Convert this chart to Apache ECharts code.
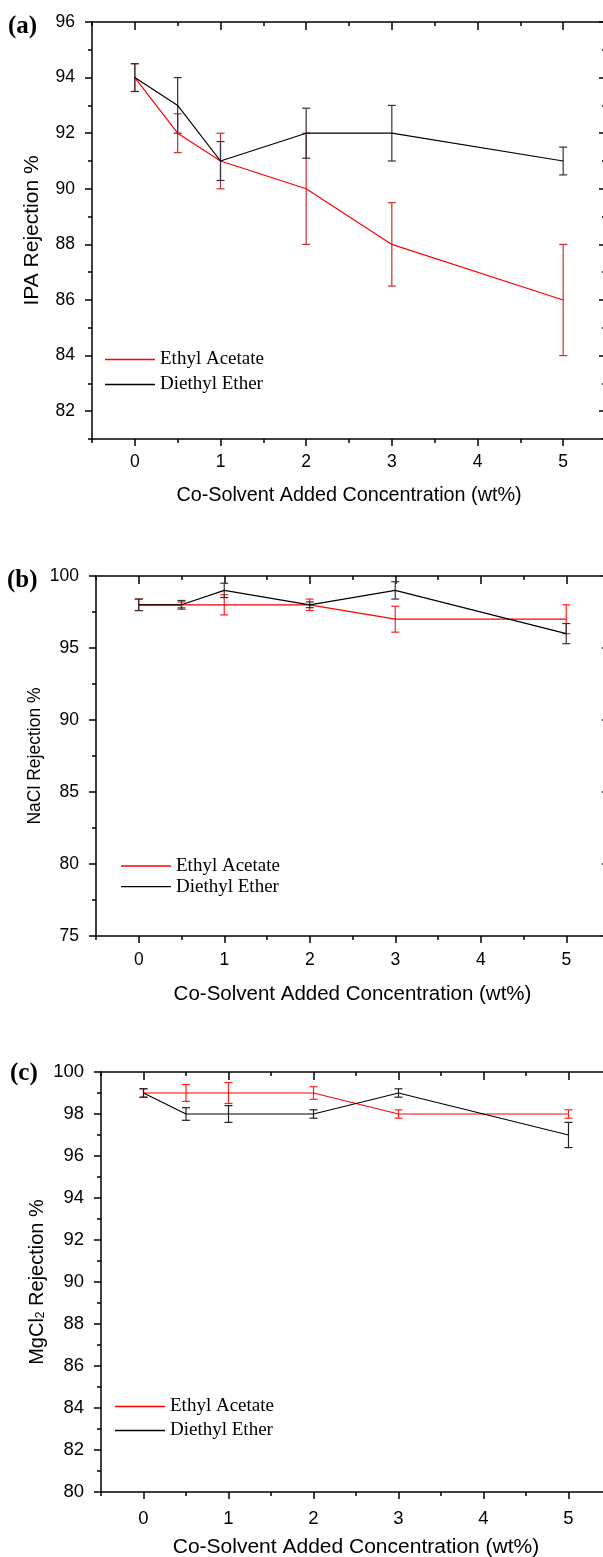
<!DOCTYPE html>
<html>
<head>
<meta charset="utf-8">
<script src="https://cdn.jsdelivr.net/npm/echarts@6/dist/echarts.min.js"></script>
<style>
html,body{margin:0;padding:0;background:#fff;}
#chart{width:603px;height:1557px;}
</style>
</head>
<body>
<div id="chart"></div>
<script>
// ---------- data ----------
const xValues = [0, 0.5, 1, 2, 3, 5];
const xTickValues = [0, 1, 2, 3, 4, 5];
const xMinorValues = [-0.5, 0.5, 1.5, 2.5, 3.5, 4.5, 5.5];
const seriesNames = ['Ethyl Acetate', 'Diethyl Ether'];
const xTitle = 'Co-Solvent Added Concentration (wt%)';

// (a) IPA rejection
const ipaEthyl = [94, 92, 91, 90, 88, 86];
const ipaEthylErr = [0.5, 0.7, 1.0, 2.0, 1.5, 2.0];
const ipaEther = [94, 93, 91, 92, 92, 91];
const ipaEtherErr = [0.5, 1.0, 0.7, 0.9, 1.0, 0.5];
const ipaYTicks = [82, 84, 86, 88, 90, 92, 94, 96];
const ipaYMinor = [81, 83, 85, 87, 89, 91, 93, 95];

// (b) NaCl rejection
const naclEthyl = [98, 98, 98, 98, 97, 97];
const naclEthylErr = [0.4, 0.2, 0.7, 0.4, 0.9, 1.0];
const naclEther = [98, 98, 99, 98, 99, 96];
const naclEtherErr = [0.4, 0.3, 0.5, 0.2, 0.6, 0.7];
const naclYTicks = [75, 80, 85, 90, 95, 100];
const naclYMinor = [77.5, 82.5, 87.5, 92.5, 97.5];

// (c) MgCl2 rejection
const mgEthyl = [99, 99, 99, 99, 98, 98];
const mgEthylErr = [0.2, 0.4, 0.5, 0.3, 0.2, 0.2];
const mgEther = [99, 98, 98, 98, 99, 97];
const mgEtherErr = [0.2, 0.3, 0.4, 0.2, 0.2, 0.6];
const mgYTicks = [80, 82, 84, 86, 88, 90, 92, 94, 96, 98, 100];
const mgYMinor = [81, 83, 85, 87, 89, 91, 93, 95, 97, 99];

// ---------- helpers ----------
const SANS = '"Liberation Sans", Arial, sans-serif';
const SERIF = '"Liberation Serif", "Times New Roman", serif';
const AXW = 1.5;

function xAxesFor(g, labelMargin, labelSize, nameGap, nameSize) {
  const base = {
    type: 'value', gridIndex: g, min: -0.5, max: 5.5,
    splitLine: { show: false },
    nameMoveOverlap: false,
    axisLine: { onZero: false, lineStyle: { color: '#000', width: AXW } }
  };
  return [
    Object.assign({}, base, {
      position: 'bottom',
      name: xTitle, nameLocation: 'middle', nameGap: nameGap,
      nameTextStyle: { fontFamily: SANS, fontSize: nameSize, color: '#000' },
      axisTick: { customValues: xTickValues, length: 7, lineStyle: { width: AXW, color: '#000' } },
      axisLabel: { customValues: xTickValues, margin: labelMargin, fontFamily: SANS, fontSize: labelSize, color: '#000' }
    }),
    Object.assign({}, base, {
      position: 'bottom',
      axisLine: { show: false, onZero: false },
      axisTick: { customValues: xMinorValues, length: 4, lineStyle: { width: AXW, color: '#000' } },
      axisLabel: { show: false }
    }),
    Object.assign({}, base, {
      position: 'top',
      axisTick: { inside: true, customValues: xTickValues, length: 8, lineStyle: { width: AXW, color: '#000' } },
      axisLabel: { show: false }
    }),
    Object.assign({}, base, {
      position: 'top',
      axisLine: { show: false, onZero: false },
      axisTick: { inside: true, customValues: xMinorValues, length: 4, lineStyle: { width: AXW, color: '#000' } },
      axisLabel: { show: false }
    })
  ];
}

function yAxesFor(g, min, max, ticks, minor, labelSize, name, nameSize, nameGap, rich) {
  const base = {
    type: 'value', gridIndex: g, min: min, max: max,
    splitLine: { show: false },
    nameMoveOverlap: false,
    axisLine: { onZero: false, lineStyle: { color: '#000', width: AXW } }
  };
  const nts = { fontFamily: SANS, fontSize: nameSize, color: '#000' };
  if (rich) nts.rich = rich;
  return [
    Object.assign({}, base, {
      position: 'left',
      name: name, nameLocation: 'middle', nameGap: nameGap,
      nameTextStyle: nts,
      axisTick: { customValues: ticks, length: 7, lineStyle: { width: AXW, color: '#000' } },
      axisLabel: { customValues: ticks, margin: 17, fontFamily: SANS, fontSize: labelSize, color: '#000' }
    }),
    Object.assign({}, base, {
      position: 'left',
      axisLine: { show: false, onZero: false },
      axisTick: { customValues: minor, length: 4, lineStyle: { width: AXW, color: '#000' } },
      axisLabel: { show: false }
    }),
    Object.assign({}, base, {
      position: 'right',
      axisTick: { inside: true, customValues: ticks, length: 7, lineStyle: { width: AXW, color: '#000' } },
      axisLabel: { show: false }
    }),
    Object.assign({}, base, {
      position: 'right',
      axisLine: { show: false, onZero: false },
      axisTick: { inside: true, customValues: minor, length: 4, lineStyle: { width: AXW, color: '#000' } },
      axisLabel: { show: false }
    })
  ];
}

function lineSeries(name, g, vals, color) {
  return {
    type: 'line', name: name,
    xAxisIndex: g * 4, yAxisIndex: g * 4,
    data: xValues.map((x, i) => [x, vals[i]]),
    symbol: 'none', showSymbol: false,
    lineStyle: { color: color, width: 1.2 },
    itemStyle: { color: color },
    animation: false
  };
}

function errSeries(g, vals, errs, color) {
  return {
    type: 'custom',
    xAxisIndex: g * 4, yAxisIndex: g * 4,
    data: xValues.map((x, i) => [x, vals[i], errs[i]]),
    encode: { x: 0, y: 1 },
    animation: false,
    renderItem: function (params, api) {
      const x = api.value(0), y = api.value(1), e = api.value(2);
      const p1 = api.coord([x, y + e]);
      const p2 = api.coord([x, y - e]);
      const w = 4;
      const style = { stroke: color, lineWidth: 1.2 };
      return {
        type: 'group',
        children: [
          { type: 'line', shape: { x1: p1[0], y1: p1[1], x2: p2[0], y2: p2[1] }, style: style },
          { type: 'line', shape: { x1: p1[0] - w, y1: p1[1], x2: p1[0] + w, y2: p1[1] }, style: style },
          { type: 'line', shape: { x1: p2[0] - w, y1: p2[1], x2: p2[0] + w, y2: p2[1] }, style: style }
        ]
      };
    }
  };
}

function legendFor(left, top, gap, size) {
  return {
    data: seriesNames, orient: 'vertical', left: left, top: top,
    icon: 'rect', itemWidth: 50, itemHeight: 1.3, itemGap: gap, padding: 0,
    selectedMode: false,
    textStyle: { fontFamily: SERIF, fontSize: size, color: '#000' }
  };
}

const RED = '#ff0000';
const BLACK = '#000000';

const option = {
  backgroundColor: '#fff',
  animation: false,
  grid: [
    { left: 92, top: 22, width: 514, height: 417, outerBoundsMode: 'none', containLabel: false },
    { left: 96, top: 576, width: 513, height: 360, outerBoundsMode: 'none', containLabel: false },
    { left: 101, top: 1072, width: 510, height: 420, outerBoundsMode: 'none', containLabel: false }
  ],
  xAxis: [].concat(
    xAxesFor(0, 14.5, 17.5, 47, 19.8),
    xAxesFor(1, 15.5, 17.5, 48, 20.5),
    xAxesFor(2, 17.5, 18.5, 45, 21)
  ),
  yAxis: [].concat(
    yAxesFor(0, 81, 96, ipaYTicks, ipaYMinor, 17.5, 'IPA Rejection %', 21, 49),
    yAxesFor(1, 75, 100, naclYTicks, naclYMinor, 17.5, 'NaCl Rejection %', 17.5, 52),
    yAxesFor(2, 80, 100, mgYTicks, mgYMinor, 18.5, 'MgCl{s|2} Rejection %', 20, 54,
      { s: { fontFamily: SANS, fontSize: 12, lineHeight: 6, verticalAlign: 'bottom', color: '#000' } })
  ),
  legend: [
    legendFor(105, 350, 6, 19),
    legendFor(121, 856.5, 1.7, 19),
    legendFor(115, 1397, 5, 19)
  ],
  series: [
    lineSeries('Ethyl Acetate', 0, ipaEthyl, RED),
    lineSeries('Diethyl Ether', 0, ipaEther, BLACK),
    errSeries(0, ipaEthyl, ipaEthylErr, '#c83030'),
    errSeries(0, ipaEther, ipaEtherErr, '#333333'),

    lineSeries('Ethyl Acetate', 1, naclEthyl, RED),
    lineSeries('Diethyl Ether', 1, naclEther, BLACK),
    errSeries(1, naclEthyl, naclEthylErr, '#ff2020'),
    errSeries(1, naclEther, naclEtherErr, '#333333'),

    lineSeries('Ethyl Acetate', 2, mgEthyl, RED),
    lineSeries('Diethyl Ether', 2, mgEther, BLACK),
    errSeries(2, mgEthyl, mgEthylErr, '#ff2020'),
    errSeries(2, mgEther, mgEtherErr, '#222222')
  ],
  graphic: [
    { type: 'text', left: 8, top: 14, style: { text: '(a)', font: 'bold 25px ' + SERIF, fill: '#000' } },
    { type: 'text', left: 7, top: 568, style: { text: '(b)', font: 'bold 25px ' + SERIF, fill: '#000' } },
    { type: 'text', left: 10, top: 1061, style: { text: '(c)', font: 'bold 25px ' + SERIF, fill: '#000' } }
  ]
};

const chart = echarts.init(document.getElementById('chart'), null, { renderer: 'canvas' });
chart.setOption(option);
</script>
</body>
</html>
